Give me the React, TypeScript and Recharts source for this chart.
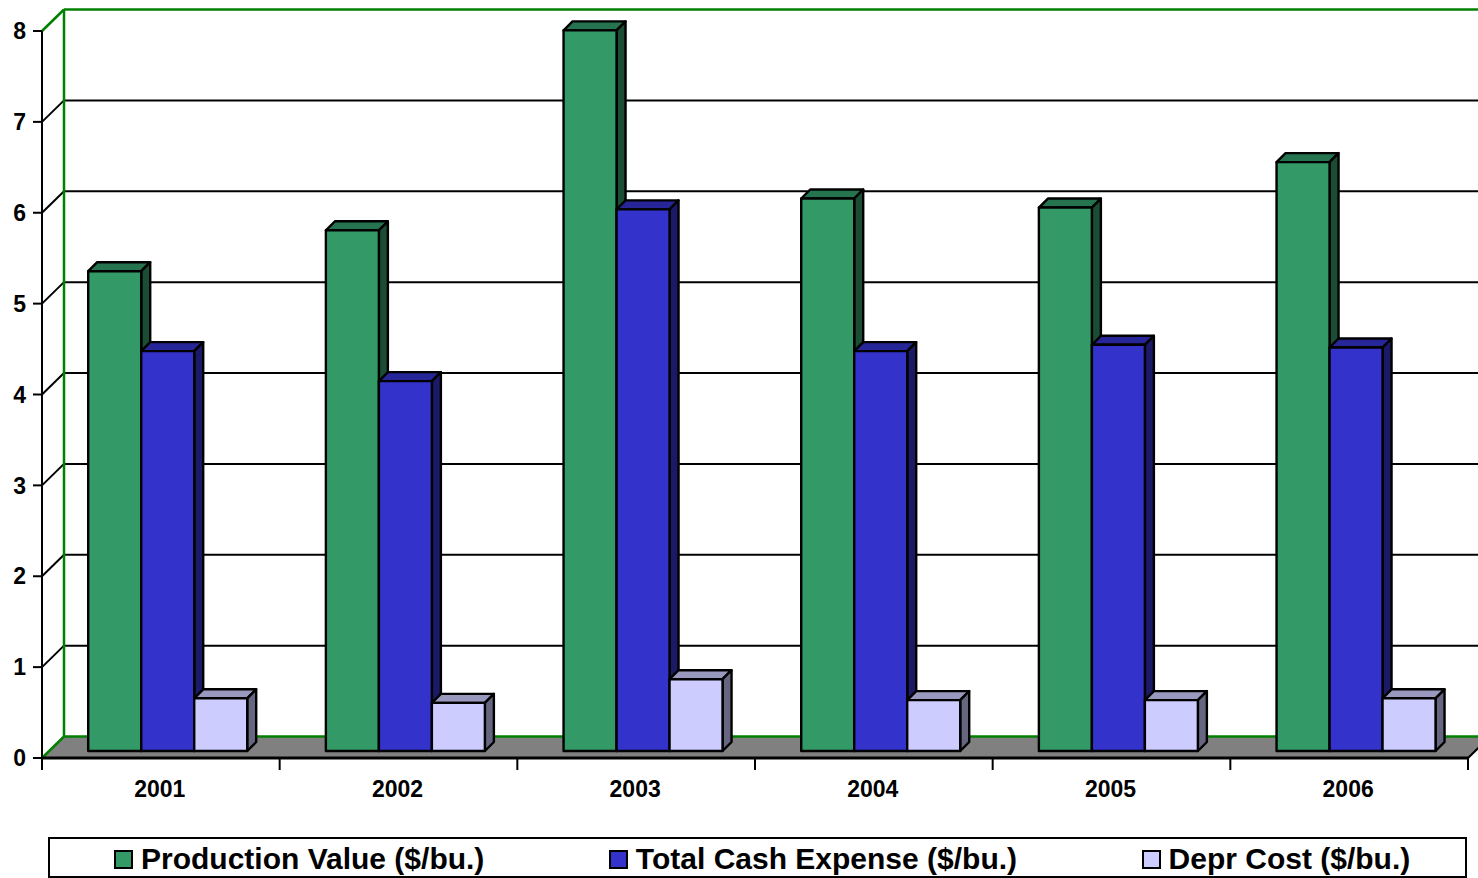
import { BarChart, Bar, XAxis, YAxis, CartesianGrid, Legend, usePlotArea } from "recharts";

const years = ["2001", "2002", "2003", "2004", "2005", "2006"];
const productionValue = [5.28, 5.73, 7.93, 6.08, 5.98, 6.48];
const totalCashExpense = [4.4, 4.07, 5.96, 4.4, 4.47, 4.44];
const deprCost = [0.58, 0.53, 0.79, 0.56, 0.56, 0.58];
const yTicks = [0, 1, 2, 3, 4, 5, 6, 7, 8];

const data = years.map((year, i) => ({
  year,
  production: productionValue[i],
  cash: totalCashExpense[i],
  depr: deprCost[i],
}));

const WIDTH = 1478;
const HEIGHT = 878;
const LEFT = 42;
const RIGHT = 10;
const BAND = (WIDTH - LEFT - RIGHT) / years.length;

// how far the back wall sits behind the axes
const WALL_X = 22;
const WALL_Y = 21.5;
// bars sit a little way into the floor, and have their own depth
const BAR_SHIFT = 7;
const BAR_DEPTH = 9;

const GREEN = "#008000";
const FONT = '"Liberation Sans", Arial, sans-serif';

const Bar3D = (colors: { front: string; top: string; side: string }) => (props: any) => {
  const { x, y, width, height } = props;
  const l = x + BAR_SHIFT;
  const r = l + width;
  const t = y - BAR_SHIFT;
  const b = t + height;
  const d = BAR_DEPTH;
  return (
    <g stroke="#000" strokeWidth={2.4} strokeLinejoin="round">
      <polygon points={`${l},${t} ${l + d},${t - d} ${r + d},${t - d} ${r},${t}`} fill={colors.top} />
      <polygon points={`${r},${t} ${r + d},${t - d} ${r + d},${b - d} ${r},${b}`} fill={colors.side} />
      <rect x={l} y={t} width={width} height={height} fill={colors.front} />
    </g>
  );
};

const Walls = () => {
  const plot = usePlotArea();
  if (!plot) return null;
  const { x, y, width, height } = plot;
  const bottom = y + height;
  const right = x + width;
  return (
    <g>
      <polygon
        points={`${x},${bottom} ${x + WALL_X},${bottom - WALL_Y} ${right + WALL_X},${bottom - WALL_Y} ${right},${bottom}`}
        fill="#808080"
      />
      <g stroke={GREEN} strokeWidth={2.5}>
        <line x1={x + WALL_X} y1={y - WALL_Y} x2={x + WALL_X} y2={bottom - WALL_Y} />
        <line x1={x + WALL_X} y1={y - WALL_Y} x2={right + WALL_X} y2={y - WALL_Y} />
        <line x1={x + WALL_X} y1={bottom - WALL_Y} x2={right + WALL_X} y2={bottom - WALL_Y} />
        <line x1={x} y1={y} x2={x + WALL_X} y2={y - WALL_Y} />
        <line x1={x} y1={bottom} x2={x + WALL_X} y2={bottom - WALL_Y} />
      </g>
      <line x1={right} y1={bottom} x2={right + WALL_X} y2={bottom - WALL_Y} stroke="#000" strokeWidth={2} />
    </g>
  );
};

const gridLine = (props: any) => {
  const { x1, x2, y1, index } = props;
  // top and bottom lines belong to the green wall frame
  if (y1 < 40 || y1 > 750) return <g key={index} />;
  return (
    <g key={index} stroke="#000" strokeWidth={2}>
      <line x1={x1} y1={y1} x2={x1 + WALL_X} y2={y1 - WALL_Y} />
      <line x1={x1 + WALL_X} y1={y1 - WALL_Y} x2={x2 + WALL_X} y2={y1 - WALL_Y} />
    </g>
  );
};

const YearTick = (props: any) => {
  const { x, y, payload, index } = props;
  const isLast = index === years.length - 1;
  // the tick y comes in 8px under the axis line
  const axisY = y - 8;
  return (
    <g>
      <line x1={x - BAND / 2} y1={axisY} x2={x - BAND / 2} y2={axisY + 12} stroke="#000" strokeWidth={2} />
      {isLast && <line x1={x + BAND / 2} y1={axisY} x2={x + BAND / 2} y2={axisY + 12} stroke="#000" strokeWidth={2} />}
      <text x={x - 1} y={axisY + 39} textAnchor="middle" fontFamily={FONT} fontWeight="bold" fontSize={23} fill="#000">
        {payload.value}
      </text>
    </g>
  );
};

const LegendBox = ({ payload }: any) => (
  <div
    style={{
      boxSizing: "border-box",
      marginLeft: 48,
      width: 1419,
      height: 41,
      border: "2px solid #000",
      display: "flex",
      alignItems: "center",
      gap: 124.5,
      paddingLeft: 64,
      fontFamily: FONT,
      fontWeight: "bold",
      fontSize: 30,
      color: "#000",
      whiteSpace: "nowrap",
    }}
  >
    {(payload || []).map((item: any) => (
      <span key={item.value} style={{ display: "flex", alignItems: "center", gap: 8, paddingTop: 3 }}>
        <span
          style={{
            display: "inline-block",
            boxSizing: "border-box",
            width: 19,
            height: 19,
            background: item.color,
            border: "2px solid #000",
          }}
        />
        {item.value}
      </span>
    ))}
  </div>
);

export default function App() {
  return (
    <div style={{ position: "absolute", left: 0, top: 0, width: WIDTH, height: HEIGHT, background: "#fff" }}>
      <BarChart
        width={WIDTH}
        height={HEIGHT}
        data={data}
        margin={{ top: 31, right: RIGHT, bottom: 0, left: 0 }}
        barCategoryGap="16.5%"
        barGap={0}
      >
        <Walls />
        <CartesianGrid vertical={false} horizontal={gridLine} />
        <XAxis
          dataKey="year"
          height={79}
          interval={0}
          stroke="#000"
          strokeWidth={3}
          tickLine={false}
          tick={YearTick}
        />
        <YAxis
          domain={[0, 8]}
          ticks={yTicks}
          width={LEFT}
          interval={0}
          stroke="#000"
          strokeWidth={2}
          tickSize={9}
          tickMargin={7}
          tick={{ fontFamily: FONT, fontWeight: "bold", fontSize: 23, fill: "#000" }}
        />
        <Bar
          dataKey="production"
          name="Production Value ($/bu.)"
          fill="#339966"
          isAnimationActive={false}
          shape={Bar3D({ front: "#339966", top: "#267350", side: "#1a4d33" })}
        />
        <Bar
          dataKey="cash"
          name="Total Cash Expense ($/bu.)"
          fill="#3333cc"
          isAnimationActive={false}
          shape={Bar3D({ front: "#3333cc", top: "#262699", side: "#1a1a66" })}
        />
        <Bar
          dataKey="depr"
          name="Depr Cost ($/bu.)"
          fill="#ccccff"
          isAnimationActive={false}
          shape={Bar3D({ front: "#ccccff", top: "#9999bf", side: "#666680" })}
        />
        <Legend
          verticalAlign="bottom"
          height={41}
          content={LegendBox}
          itemSorter={null}
          wrapperStyle={{ left: 0, width: WIDTH, bottom: 0 }}
        />
      </BarChart>
    </div>
  );
}
